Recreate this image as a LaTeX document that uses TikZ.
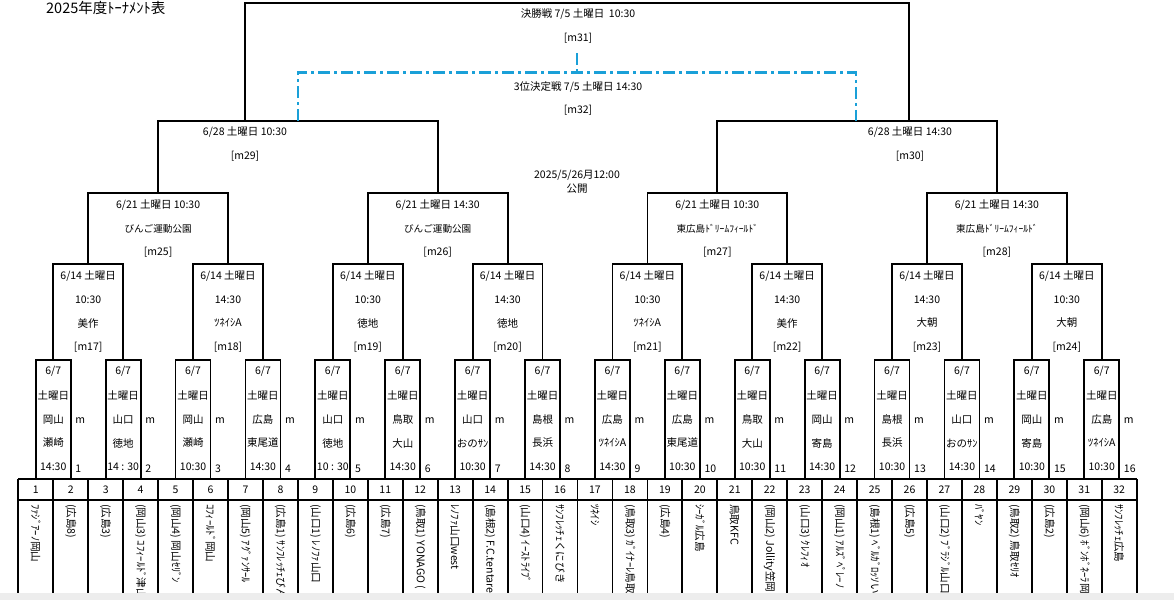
\documentclass[tikz,border=0pt]{standalone}
\usepackage{fontspec}
\setmainfont{Noto Sans CJK JP}
\definecolor{thirdblue}{HTML}{1AA0D8}
\definecolor{barback}{HTML}{EDEDED}
\begin{document}
\begin{tikzpicture}[x=1pt,y=-1pt,
  txt/.style={font=\fontsize{10.5}{12}\selectfont, inner sep=0pt},
  small/.style={font=\fontsize{9.6}{11}\selectfont, inner sep=0pt},
  brk/.style={draw=black, line width=1.8pt, line join=miter},
  third/.style={draw=thirdblue, line width=2.4pt, dash pattern=on 12pt off 4pt on 3pt off 4pt},
  gridline/.style={draw=black, line width=1.8pt},
  team/.style={font=\fontsize{10.6}{12}\selectfont, inner sep=0pt, rotate=-90, anchor=west}]
\useasboundingbox (0,0) rectangle (1174,600);
\def\xa{18.3}\def\cw{34.95}

% title
\node[font=\fontsize{14.5}{16}\selectfont, inner sep=0pt, anchor=west] (title) at (46,8) {2025年度ﾄｰﾅﾒﾝﾄ表};

% ---------- round 1 ----------
\foreach \k/\reg/\ven/\tm in {1/岡山/瀬崎/14:30, 2/山口/徳地/14 : 30, 3/岡山/瀬崎/10:30, 4/広島/東尾道/14:30,
  5/山口/徳地/10 : 30, 6/鳥取/大山/14:30, 7/山口/おのｻﾝ/10:30, 8/島根/長浜/14:30,
  9/広島/ﾂﾈｲｼA/14:30, 10/広島/東尾道/10:30, 11/鳥取/大山/10:30, 12/岡山/寄島/14:30,
  13/島根/長浜/10:30, 14/山口/おのｻﾝ/14:30, 15/岡山/寄島/10:30, 16/広島/ﾂﾈｲｼA/10:30} {
  \pgfmathsetmacro\L{\xa+\cw*(2*\k-1.5)}
  \pgfmathsetmacro\R{\xa+\cw*(2*\k-0.5)}
  \pgfmathsetmacro\C{\xa+\cw*(2*\k-1)}
  \coordinate (ra\k) at (\L,479);
  \coordinate (rb\k) at (\L,360);
  \coordinate (rc\k) at (\R,360);
  \coordinate (rd\k) at (\R,479);
  \draw[brk] (ra\k) -- (rb\k) -- (rc\k) -- (rd\k);
  \node[txt] (rdate\k) at (\C,371.5) {6/7};
  \node[txt] (rday\k) at (\C,395.5) {土曜日};
  \node[txt] (rreg\k) at (\C,419.5) {\reg};
  \node[txt] (rven\k) at (\C,443) {\ven};
  \node[txt] (rtm\k) at (\C,466.5) {\tm};
  \node[txt, anchor=west] (rm\k) at (\R+4.5,420.5) {m};
  \node[txt, anchor=west] (rn\k) at (\R+4.5,468.5) {\k};
}

% ---------- round 2 ----------
\foreach \j/\tm/\ven in {1/10:30/美作, 2/14:30/ﾂﾈｲｼA, 3/10:30/徳地, 4/14:30/徳地,
  5/10:30/ﾂﾈｲｼA, 6/14:30/美作, 7/14:30/大朝, 8/10:30/大朝} {
  \pgfmathsetmacro\L{\xa+\cw*(4*\j-3)}
  \pgfmathsetmacro\R{\xa+\cw*(4*\j-1)}
  \pgfmathsetmacro\C{\xa+\cw*(4*\j-2)}
  \pgfmathtruncatemacro\mm{16+\j}
  \coordinate (sa\j) at (\L,360);
  \coordinate (sb\j) at (\L,264.3);
  \coordinate (sc\j) at (\R,264.3);
  \coordinate (sd\j) at (\R,360);
  \draw[brk] (sa\j) -- (sb\j) -- (sc\j) -- (sd\j);
  \node[txt] (sdate\j) at (\C,276) {6/14 土曜日};
  \node[txt] (stm\j) at (\C,299.5) {\tm};
  \node[txt] (sven\j) at (\C,323) {\ven};
  \node[txt] (sid\j) at (\C,347.5) {[m\mm]};
}

% ---------- round 3 ----------
\foreach \l/\tm/\ven in {1/10:30/びんご運動公園, 2/14:30/びんご運動公園,
  3/10:30/東広島ﾄﾞﾘｰﾑﾌｨｰﾙﾄﾞ, 4/14:30/東広島ﾄﾞﾘｰﾑﾌｨｰﾙﾄﾞ} {
  \pgfmathsetmacro\L{\xa+\cw*(8*\l-6)}
  \pgfmathsetmacro\R{\xa+\cw*(8*\l-2)}
  \pgfmathsetmacro\C{\xa+\cw*(8*\l-4)}
  \pgfmathtruncatemacro\mm{24+\l}
  \coordinate (ta\l) at (\L,264.3);
  \coordinate (tb\l) at (\L,193.3);
  \coordinate (tc\l) at (\R,193.3);
  \coordinate (td\l) at (\R,264.3);
  \draw[brk] (ta\l) -- (tb\l) -- (tc\l) -- (td\l);
  \node[txt] (tdate\l) at (\C,205) {6/21 土曜日 \tm};
  \node[small] (tven\l) at (\C,229) {\ven};
  \node[txt] (tid\l) at (\C,252.5) {[m\mm]};
}

% ---------- round 4 ----------
\foreach \n in {1,2} {
  \pgfmathsetmacro\L{\xa+\cw*(16*\n-12)}
  \pgfmathsetmacro\R{\xa+\cw*(16*\n-4)}
  \coordinate (qa\n) at (\L,193.3);
  \coordinate (qb\n) at (\L,121);
  \coordinate (qc\n) at (\R,121);
  \coordinate (qd\n) at (\R,193.3);
  \draw[brk] (qa\n) -- (qb\n) -- (qc\n) -- (qd\n);
}
\node[txt] (q1date) at (245,132.5) {6/28 土曜日 10:30};
\node[txt] (q1id) at (245,156) {[m29]};
\node[txt] (q2date) at (910,132.5) {6/28 土曜日 14:30};
\node[txt] (q2id) at (910,156) {[m30]};

% ---------- final ----------
\coordinate (fa) at (245,121);
\coordinate (fb) at (245,3);
\coordinate (fc) at (909.3,3);
\coordinate (fd) at (909.3,121);
\draw[brk] (fa) -- (fb) -- (fc) -- (fd);
\node[txt] (fdate) at (578,14) {決勝戦 7/5 土曜日\ \ 10:30};
\node[txt] (fid) at (578,38) {[m31]};

% ---------- third place ----------
\coordinate (ha) at (297.9,121);
\coordinate (hb) at (297.9,72.5);
\coordinate (hc) at (856,72.5);
\coordinate (hd) at (856,121);
\coordinate (hm) at (577,72.5);
\coordinate (hn) at (577,53);
\draw[third] (ha) -- (hb) -- (hc) -- (hd);
\draw[third, dash pattern=on 12pt off 4pt] (hn) -- (hm);
\node[txt] (hdate) at (578,86.7) {3位決定戦 7/5 土曜日 14:30};
\node[txt] (hid) at (578,110) {[m32]};

% announcement
\node[txt] (pub1) at (577,175) {2025/5/26月12:00};
\node[txt] (pub2) at (577,188.5) {公開};

% ---------- table ----------
\pgfmathsetmacro\xe{\xa+32*\cw}
\draw[gridline] (\xa,479) -- (\xe,479);
\draw[gridline] (\xa,500) -- (\xe,500);
\foreach \i in {0,...,32} {
  \pgfmathsetmacro\X{\xa+\cw*\i}
  \draw[gridline] (\X,479) -- (\X,593);
}
\foreach \i in {1,...,32} {
  \pgfmathsetmacro\X{\xa+\cw*(\i-0.5)}
  \node[txt] (num\i) at (\X,489.5) {\i};
}
\begin{scope}
\clip (0,501) rectangle (1174,592.5);
\foreach \i/\nm in {1/ﾌｧｼﾞｱｰﾉ岡山, 2/(広島8), 3/(広島3), 4/(岡山3) ｺﾌｨｰﾙﾄﾞ津山,
  5/(岡山4) 岡山ｾﾘﾞﾝ, 6/ｺﾌｨｰﾙﾄﾞ岡山, 7/(岡山5) ｱｸﾞｧﾝｻｰﾙ, 8/(広島1) ｻﾝﾌﾚｯﾁｪびんご,
  9/(山口1) ﾚﾉﾌｧ山口, 10/(広島6), 11/(広島7), 12/(鳥取1) YONAGO (,
  13/ﾚﾉﾌｧ山口west, 14/(島根2) F.C.tentare, 15/(山口4) ｲｰｽﾄﾗｲﾌﾞ, 16/ｻﾝﾌﾚｯﾁｪくにびき,
  17/ﾂﾈｲｼ, 18/(鳥取3) ｶﾞｲﾅｰﾚ鳥取, 19/(広島4), 20/ｼｰｶﾞﾙ広島,
  21/鳥取KFC, 22/(岡山2) Jollity笠岡, 23/(山口3) ｸﾚﾌｨｵ, 24/(岡山1) ｱﾙｽﾞﾍﾟﾚｰﾉ,
  25/(島根1) ﾍﾞﾙｶﾞﾛｯｿいわみ, 26/(広島5), 27/(山口2) ﾌﾞﾗｼﾞﾙ山口, 28/ﾊﾞﾔﾝ,
  29/(鳥取2) 鳥取ｾﾘｵ, 30/(広島2), 31/(岡山6) ﾎﾞﾝﾎﾞﾈｰﾗ岡山, 32/ｻﾝﾌﾚｯﾁｪ広島} {
  \pgfmathsetmacro\X{\xa+\cw*(\i-0.5)}
  \node[team] (tm\i) at (\X,504) {\nm};
}
\end{scope}

% window scrollbar band
\fill[barback] (0,592.5) rectangle (1174,600);
\end{tikzpicture}
\end{document}
